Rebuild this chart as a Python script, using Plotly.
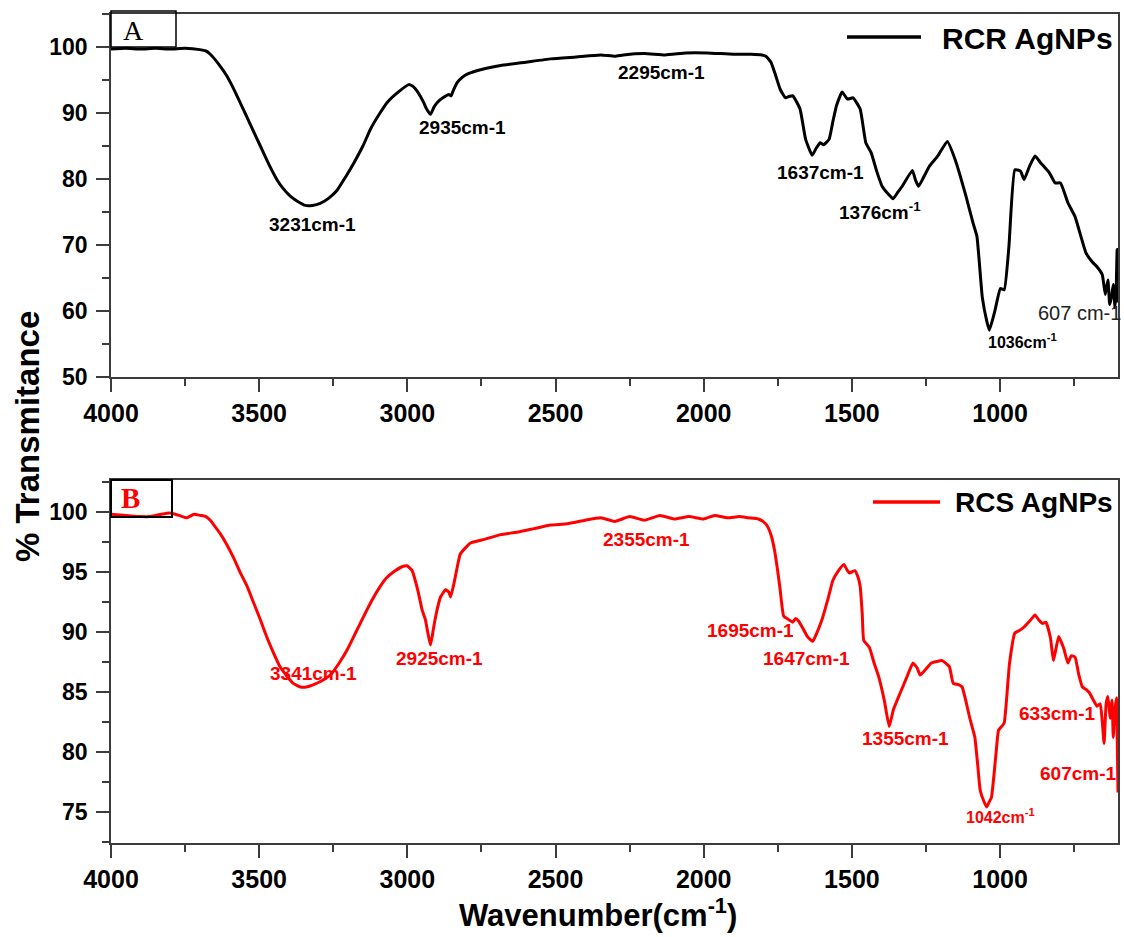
import plotly.graph_objects as go

W, H = 1124, 937

# ---------------- data ----------------
rcr_wn = [4000, 3950, 3900, 3850, 3800, 3750, 3700, 3680, 3665, 3640, 3609, 3580, 3553, 3525,
          3496, 3468, 3440, 3418, 3395, 3370, 3344, 3320, 3294, 3265, 3237, 3210, 3181, 3150,
          3125, 3095, 3068, 3030, 2995, 2980, 2967, 2945, 2935, 2922, 2910, 2899, 2880, 2860,
          2852, 2846, 2832, 2815, 2798, 2750, 2685, 2600, 2516, 2430, 2347, 2300, 2271, 2200,
          2130, 2060, 1988, 1900, 1840, 1804, 1790, 1773, 1758, 1742, 1724, 1712, 1699, 1675,
          1656, 1634, 1620, 1607, 1595, 1577, 1565, 1552, 1533, 1515, 1496, 1472, 1453, 1435,
          1415, 1398, 1375, 1361, 1345, 1330, 1296, 1285, 1275, 1239, 1210, 1178, 1152, 1115,
          1091, 1078, 1060, 1045, 1036, 1017, 999, 986, 970, 950, 931, 919, 900, 882, 864, 833,
          814, 796, 771, 747, 710, 690, 673, 655, 645, 636, 630, 624, 618, 612, 608, 605, 603, 602]
rcr_t = [99.7, 99.8, 99.7, 99.8, 99.7, 99.8, 99.6, 99.4, 98.9, 97.6, 95.6, 93.1, 90.5, 87.8,
         85.0, 82.3, 79.9, 78.5, 77.4, 76.6, 76.0, 76.0, 76.3, 77.1, 78.3, 80.2, 82.4, 85.0,
         87.5, 89.8, 91.6, 93.2, 94.3, 94.0, 93.3, 91.6, 90.6, 89.8, 90.9, 91.6, 92.3, 92.8,
         92.6, 93.3, 94.6, 95.4, 95.9, 96.6, 97.2, 97.7, 98.2, 98.5, 98.8, 98.6, 98.8, 99.0,
         98.8, 99.1, 99.1, 98.9, 98.9, 98.8, 98.6, 97.7, 95.8, 93.6, 92.3, 92.5, 92.6, 90.6,
         86.0, 83.6, 84.7, 85.5, 85.2, 86.0, 88.5, 91.1, 93.2, 92.1, 92.3, 90.6, 85.5, 84.0,
         81.0, 78.9, 77.6, 77.0, 78.0, 78.9, 81.3, 79.8, 78.9, 81.9, 83.5, 85.7, 83.0, 77.4,
         73.3, 71.3, 62.1, 58.5, 57.1, 60.1, 63.4, 63.2, 69.8, 81.4, 81.2, 79.9, 82.0, 83.5, 82.5, 80.9,
         79.4, 79.4, 76.4, 74.3, 68.8, 67.5, 66.7, 65.5, 62.5, 64.7, 61.0, 62.1, 64.0, 60.5, 63.5, 69.3, 61.5, 62.0]

rcs_wn = [4000, 3950, 3900, 3868, 3830, 3801, 3770, 3744, 3720, 3699, 3680, 3665, 3650, 3632,
          3610, 3587, 3565, 3541, 3520, 3496, 3475, 3451, 3430, 3406, 3385, 3361, 3341, 3316,
          3290, 3260, 3230, 3203, 3175, 3147, 3120, 3091, 3070, 3046, 3020, 3001, 2984, 2965,
          2950, 2939, 2930, 2922, 2915, 2911, 2900, 2888, 2871, 2860, 2854, 2843, 2830, 2821,
          2800, 2787, 2740, 2685, 2630, 2573, 2516, 2460, 2400, 2347, 2300, 2250, 2200, 2148,
          2100, 2050, 2000, 1963, 1920, 1880, 1850, 1816, 1800, 1785, 1772, 1761, 1750, 1742,
          1730, 1712, 1700, 1690, 1680, 1668, 1650, 1632, 1620, 1601, 1580, 1564, 1545, 1527,
          1515, 1508, 1490, 1480, 1472, 1465, 1460, 1441, 1425, 1410, 1390, 1374, 1360, 1337,
          1315, 1294, 1280, 1270, 1250, 1232, 1195, 1171, 1158, 1140, 1128, 1115, 1103, 1085,
          1075, 1067, 1055, 1045, 1037, 1029, 1015, 1005, 995, 986, 968, 950, 935, 919, 900,
          882, 870, 857, 845, 830, 820, 812, 802, 785, 771, 760, 747, 735, 722, 710, 698, 685,
          673, 662, 655, 649, 642, 636, 628, 622, 618, 612, 607, 604, 602]
rcs_t = [99.8, 99.7, 99.6, 99.6, 99.8, 99.9, 99.7, 99.5, 99.8, 99.7, 99.6, 99.3, 98.8, 98.2,
         97.3, 96.2, 95.0, 93.8, 92.5, 91.0, 89.6, 88.2, 87.1, 86.3, 85.7, 85.4, 85.4, 85.6,
         85.9, 86.4, 87.4, 88.5, 89.9, 91.3, 92.6, 93.8, 94.5, 95.0, 95.4, 95.5, 95.1, 93.5,
         91.8, 91.0, 89.8, 88.9, 89.8, 90.4, 91.8, 92.9, 93.5, 93.3, 92.9, 94.0, 95.6, 96.5,
         97.1, 97.4, 97.7, 98.1, 98.3, 98.6, 98.9, 99.0, 99.3, 99.5, 99.2, 99.6, 99.3, 99.7,
         99.4, 99.6, 99.4, 99.7, 99.5, 99.6, 99.5, 99.4, 99.2, 98.8, 98.0, 96.8, 95.0, 93.5,
         91.3, 91.0, 90.8, 91.1, 90.9, 90.4, 89.6, 89.2, 89.8, 91.0, 92.8, 94.3, 95.1, 95.6,
         95.1, 94.9, 95.1, 94.6, 93.8, 91.5, 89.3, 88.7, 87.4, 86.3, 84.2, 82.1, 83.5, 84.9,
         86.2, 87.4, 87.0, 86.4, 86.9, 87.4, 87.6, 87.1, 85.7, 85.6, 85.4, 84.2, 82.9, 81.2,
         78.8, 76.8, 75.9, 75.4, 75.8, 76.2, 79.5, 81.8, 82.1, 82.4, 87.4, 89.9, 90.1, 90.4, 90.9,
         91.4, 91.0, 90.7, 90.8, 89.5, 87.6, 88.5, 89.6, 88.6, 87.4, 88.0, 87.9, 86.5, 85.4, 85.2, 84.9, 84.3,
         83.8, 84.0, 82.5, 80.7, 84.0, 84.6, 82.8, 84.3, 81.2, 83.5, 84.5, 80.0, 76.6]

x_ticks = [4000, 3500, 3000, 2500, 2000, 1500, 1000]
top_yticks = [50, 60, 70, 80, 90, 100]
bot_yticks = [75, 80, 85, 90, 95, 100]

top_labels = [("3231cm-1", 312, 224), ("2935cm-1", 462, 128), ("2295cm-1", 661, 73),
              ("1637cm-1", 820, 172), ("1376cm<sup>-1</sup>", 880, 211), ("1036cm<sup>-1</sup>", 1022, 341)]
bot_labels = [("3341cm-1", 313, 673), ("2925cm-1", 439, 658), ("2355cm-1", 646, 539),
              ("1695cm-1", 750, 630), ("1647cm-1", 806, 658), ("1355cm-1", 905, 738),
              ("1042cm<sup>-1</sup>", 1000, 816), ("633cm-1", 1057, 713), ("607cm-1", 1078, 773)]


def px(x):
    return x / W


def py(y):
    return 1 - y / H


BOLD = "Arial, 'Liberation Sans', sans-serif"
AXC = "#3c3c3c"

fig = go.Figure()
fig.add_trace(go.Scatter(x=rcr_wn, y=rcr_t, mode="lines",
                         line=dict(color="black", width=3, shape="spline", smoothing=0.4),
                         xaxis="x", yaxis="y", showlegend=False))
fig.add_trace(go.Scatter(x=rcs_wn, y=rcs_t, mode="lines",
                         line=dict(color="#ff0000", width=3, shape="spline", smoothing=0.4),
                         xaxis="x2", yaxis="y2", showlegend=False))

xdom = [px(111), px(1118)]


def xax(anchor):
    return dict(domain=xdom, anchor=anchor, range=[4000, 602], tickvals=x_ticks, automargin=False,
                ticks="outside", ticklen=13, tickwidth=1.5, tickcolor=AXC,
                minor=dict(dtick=250, tick0=0, ticks="outside", ticklen=7, tickwidth=1.5, tickcolor=AXC),
                showline=True, linecolor=AXC, linewidth=1.5, mirror=True,
                showgrid=False, zeroline=False,
                tickfont=dict(family=BOLD, size=25, color="black", weight="bold"))


def yax(anchor, dom, rng, vals, minor_dt):
    return dict(domain=dom, anchor=anchor, range=rng, tickvals=vals, automargin=False,
                ticks="outside", ticklen=13, tickwidth=1.5, tickcolor=AXC,
                minor=dict(dtick=minor_dt, tick0=0, ticks="outside", ticklen=7, tickwidth=1.5, tickcolor=AXC),
                showline=True, linecolor=AXC, linewidth=1.5, mirror=True,
                showgrid=False, zeroline=False, ticklabelstandoff=4,
                tickfont=dict(family=BOLD, size=23, color="black", weight="bold"))


fig.update_layout(
    width=W, height=H, margin=dict(l=0, r=0, t=0, b=0, autoexpand=False),
    paper_bgcolor="white", plot_bgcolor="white", showlegend=False,
    xaxis=xax("y"),
    yaxis=yax("x", [py(377), py(14)], [50, 105], top_yticks, 5),
    xaxis2=xax("y2"),
    yaxis2=yax("x2", [py(843), py(480)], [72.4, 102.65], bot_yticks, 2.5),
)

ann = []
for t, x, y in top_labels:
    sz = 16 if "1036" in t else 19
    ann.append(dict(text="<b>%s</b>" % t, x=px(x), y=py(y), xref="paper", yref="paper",
                    showarrow=False, xanchor="center", yanchor="middle",
                    font=dict(family=BOLD, size=sz, color="black")))
ann.append(dict(text="607 cm-1", x=px(1123), y=py(313), xref="paper", yref="paper",
                showarrow=False, xanchor="right", yanchor="middle",
                font=dict(family=BOLD, size=20, color="#222")))
for t, x, y in bot_labels:
    sz = 16 if "1042" in t else 19
    ann.append(dict(text="<b>%s</b>" % t, x=px(x), y=py(y), xref="paper", yref="paper",
                    showarrow=False, xanchor="center", yanchor="middle",
                    font=dict(family=BOLD, size=sz, color="#ff0000")))

# legends
ann.append(dict(text="<b>RCR AgNPs</b>", x=px(1115), y=py(38), xref="paper", yref="paper",
                showarrow=False, xanchor="right", yanchor="middle",
                font=dict(family=BOLD, size=30, color="black")))
ann.append(dict(text="<b>RCS AgNPs</b>", x=px(1115), y=py(502), xref="paper", yref="paper",
                showarrow=False, xanchor="right", yanchor="middle",
                font=dict(family=BOLD, size=28, color="black")))
# panel letters
ann.append(dict(text="A", x=px(133), y=py(31), xref="paper", yref="paper",
                showarrow=False, xanchor="center", yanchor="middle",
                font=dict(family="'Liberation Serif', 'Times New Roman', serif", size=28, color="black")))
ann.append(dict(text="<b>B</b>", x=px(130), y=py(498), xref="paper", yref="paper",
                showarrow=False, xanchor="center", yanchor="middle",
                font=dict(family="'Liberation Serif', 'Times New Roman', serif", size=29, color="#ff0000")))
# axis titles
ann.append(dict(text="<b>% Transmitance</b>", x=px(27), y=py(437), xref="paper", yref="paper",
                showarrow=False, xanchor="center", yanchor="middle", textangle=-90,
                font=dict(family=BOLD, size=33, color="black")))
ann.append(dict(text="<b>Wavenumber(cm<sup>-1</sup>)</b>", x=px(598), y=py(913), xref="paper", yref="paper",
                showarrow=False, xanchor="center", yanchor="middle",
                font=dict(family=BOLD, size=31, color="black")))
fig.update_layout(annotations=ann)

shapes = [
    dict(type="rect", xref="paper", yref="paper", x0=px(111), x1=px(176), y0=py(47), y1=py(11),
         line=dict(color="black", width=1.5)),
    dict(type="rect", xref="paper", yref="paper", x0=px(111), x1=px(172), y0=py(517), y1=py(480),
         line=dict(color="black", width=2)),
    dict(type="line", xref="paper", yref="paper", x0=px(847), x1=px(921), y0=py(37), y1=py(37),
         line=dict(color="black", width=3.5)),
    dict(type="line", xref="paper", yref="paper", x0=px(873), x1=px(940), y0=py(502), y1=py(502),
         line=dict(color="#ff0000", width=3.5)),
]
fig.update_layout(shapes=shapes)

fig.write_html("out.html")
